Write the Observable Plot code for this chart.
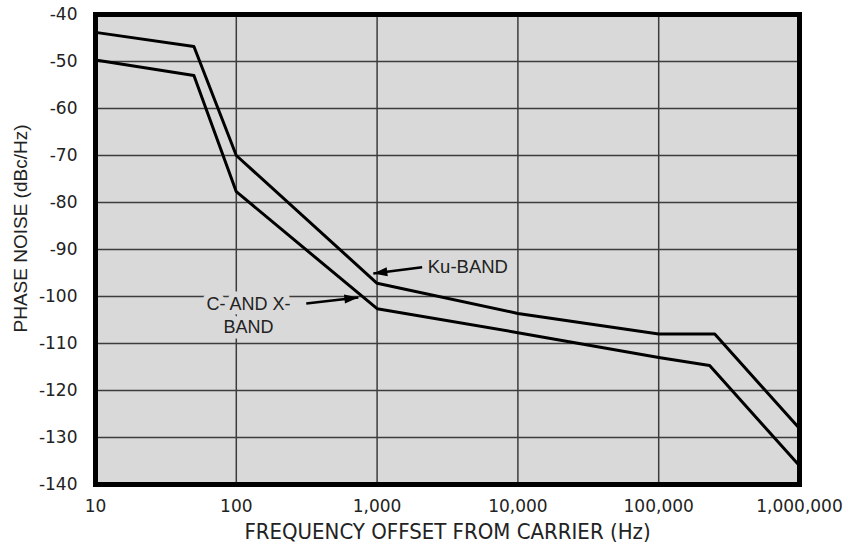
<!DOCTYPE html>
<html><head><meta charset="utf-8">
<script src="https://cdn.jsdelivr.net/npm/d3@7"></script>
<script src="https://cdn.jsdelivr.net/npm/@observablehq/plot@0.6"></script>
<style>
html,body{margin:0;padding:0;background:#fff;}
#chart{width:848px;height:546px;overflow:hidden;}
svg{display:block;}
</style></head><body><div id="chart"></div>
<script>
// Series: Ku-band
const freqKu = [10, 50, 100, 1000, 10000, 100000, 250000, 1000000];
const noiseKu = [-43.8, -46.8, -70, -97.2, -103.6, -108, -108, -128.1];
// Series: C- and X-band
const freqCX = [10, 50, 100, 1000, 10000, 100000, 230000, 1000000];
const noiseCX = [-49.7, -53, -77.7, -102.6, -107.7, -113, -114.7, -136];
// Ticks
const xTicks = [10, 100, 1000, 10000, 100000, 1000000];
const xTickLabels = ["10", "100", "1,000", "10,000", "100,000", "1,000,000"];
const yTicks = [-40, -50, -60, -70, -80, -90, -100, -110, -120, -130, -140];
const yTickLabels = ["-40", "-50", "-60", "-70", "-80", "-90", "-100", "-110", "-120", "-130", "-140"];
// Titles
const xTitle = "FREQUENCY OFFSET FROM CARRIER (Hz)";
const yTitle = "PHASE NOISE (dBc/Hz)";
// Annotations (data coordinates)
const kuLabel = ["Ku-BAND"];
const kuLabelFreq = [2290];
const kuLabelNoise = [-93.8];
const cxLabel = ["C- AND X-\nBAND"];
const cxLabelFreq = [122];
const cxLabelNoise = [-103.8];
const arrowTailFreq = [2090, 314];
const arrowTailNoise = [-93.8, -101.5];
const arrowHeadFreq = [940, 736];
const arrowHeadNoise = [-95.1, -100.2];

const ku = freqKu.map((f, i) => ({f, v: noiseKu[i]}));
const cx = freqCX.map((f, i) => ({f, v: noiseCX[i]}));
const kuLab = kuLabel.map((t, i) => ({t, f: kuLabelFreq[i], v: kuLabelNoise[i]}));
const cxLab = cxLabel.map((t, i) => ({t, f: cxLabelFreq[i], v: cxLabelNoise[i]}));
const arrows = arrowTailFreq.map((f, i) => ({f1: f, v1: arrowTailNoise[i], f2: arrowHeadFreq[i], v2: arrowHeadNoise[i]}));
const arrowRot = [263, 83.4];

const arrowHead = {
  draw(context, size) {
    // tip at origin, pointing "up"
    context.moveTo(0, 0);
    context.lineTo(4.5, 14);
    context.lineTo(-4.5, 14);
    context.closePath();
  }
};

const sans = "'Liberation Sans', Arial, sans-serif";
const tickFont = "'DejaVu Sans', sans-serif";
const narrow = "'Liberation Sans Narrow', 'DejaVu Sans Condensed', 'Roboto Condensed', sans-serif";

const chart = Plot.plot({
  width: 848,
  height: 546,
  marginTop: 14,
  marginBottom: 62,
  marginLeft: 95,
  marginRight: 49,
  style: {background: "#fff", color: "#222"},
  x: {type: "log", domain: [10, 1000000]},
  y: {domain: [-140, -40]},
  marks: [
    Plot.frame({fill: "#d9d9d9", stroke: null}),
    Plot.ruleX(xTicks, {stroke: "#3c3c3c", strokeWidth: 1.5}),
    Plot.ruleY(yTicks, {stroke: "#3c3c3c", strokeWidth: 1.5}),
    Plot.line(ku, {x: "f", y: "v", stroke: "#000", strokeWidth: 3}),
    Plot.line(cx, {x: "f", y: "v", stroke: "#000", strokeWidth: 3}),
    Plot.text(cxLab, {x: "f", y: "v", text: "t", fill: "#222", stroke: "#d9d9d9", strokeWidth: 11,
      fontSize: 18, fontFamily: sans, textAnchor: "middle", lineHeight: 1.25}),
    Plot.text(kuLab, {x: "f", y: "v", text: "t", fill: "#222", stroke: "#d9d9d9", strokeWidth: 8,
      fontSize: 18.5, fontFamily: sans, textAnchor: "start"}),
    Plot.link(arrows, {x1: "f1", y1: "v1", x2: "f2", y2: "v2", stroke: "#000", strokeWidth: 2.5}),
    Plot.dot(arrows, {x: "f2", y: "v2", symbol: arrowHead, r: 5, fill: "#000", stroke: null,
      rotate: (d, i) => arrowRot[i]}),
    Plot.frame({stroke: "#000", strokeWidth: 5}),
    Plot.axisX({ticks: xTicks, tickFormat: (d) => xTickLabels[xTicks.indexOf(d)], tickSize: 0, tickPadding: 15,
      fontSize: 17, fontFamily: tickFont, fill: "#222", label: null}),
    Plot.axisY({ticks: yTicks, tickFormat: (d) => yTickLabels[yTicks.indexOf(d)], tickSize: 0, tickPadding: 18,
      fontSize: 17, fontFamily: tickFont, fill: "#222", label: null}),
    Plot.text([xTitle], {frameAnchor: "bottom", dy: 54, text: (d) => d, fontSize: 22, fontFamily: narrow,
      fill: "#222", textAnchor: "middle", style: {letterSpacing: "0.6px"}}),
    Plot.text([yTitle], {frameAnchor: "left", dx: -75, dy: -21, rotate: -90, textAnchor: "middle", lineAnchor: "middle",
      text: (d) => d, fontSize: 19, fontFamily: sans, fill: "#222"})
  ]
});
document.getElementById("chart").appendChild(chart);
</script>
</body></html>
